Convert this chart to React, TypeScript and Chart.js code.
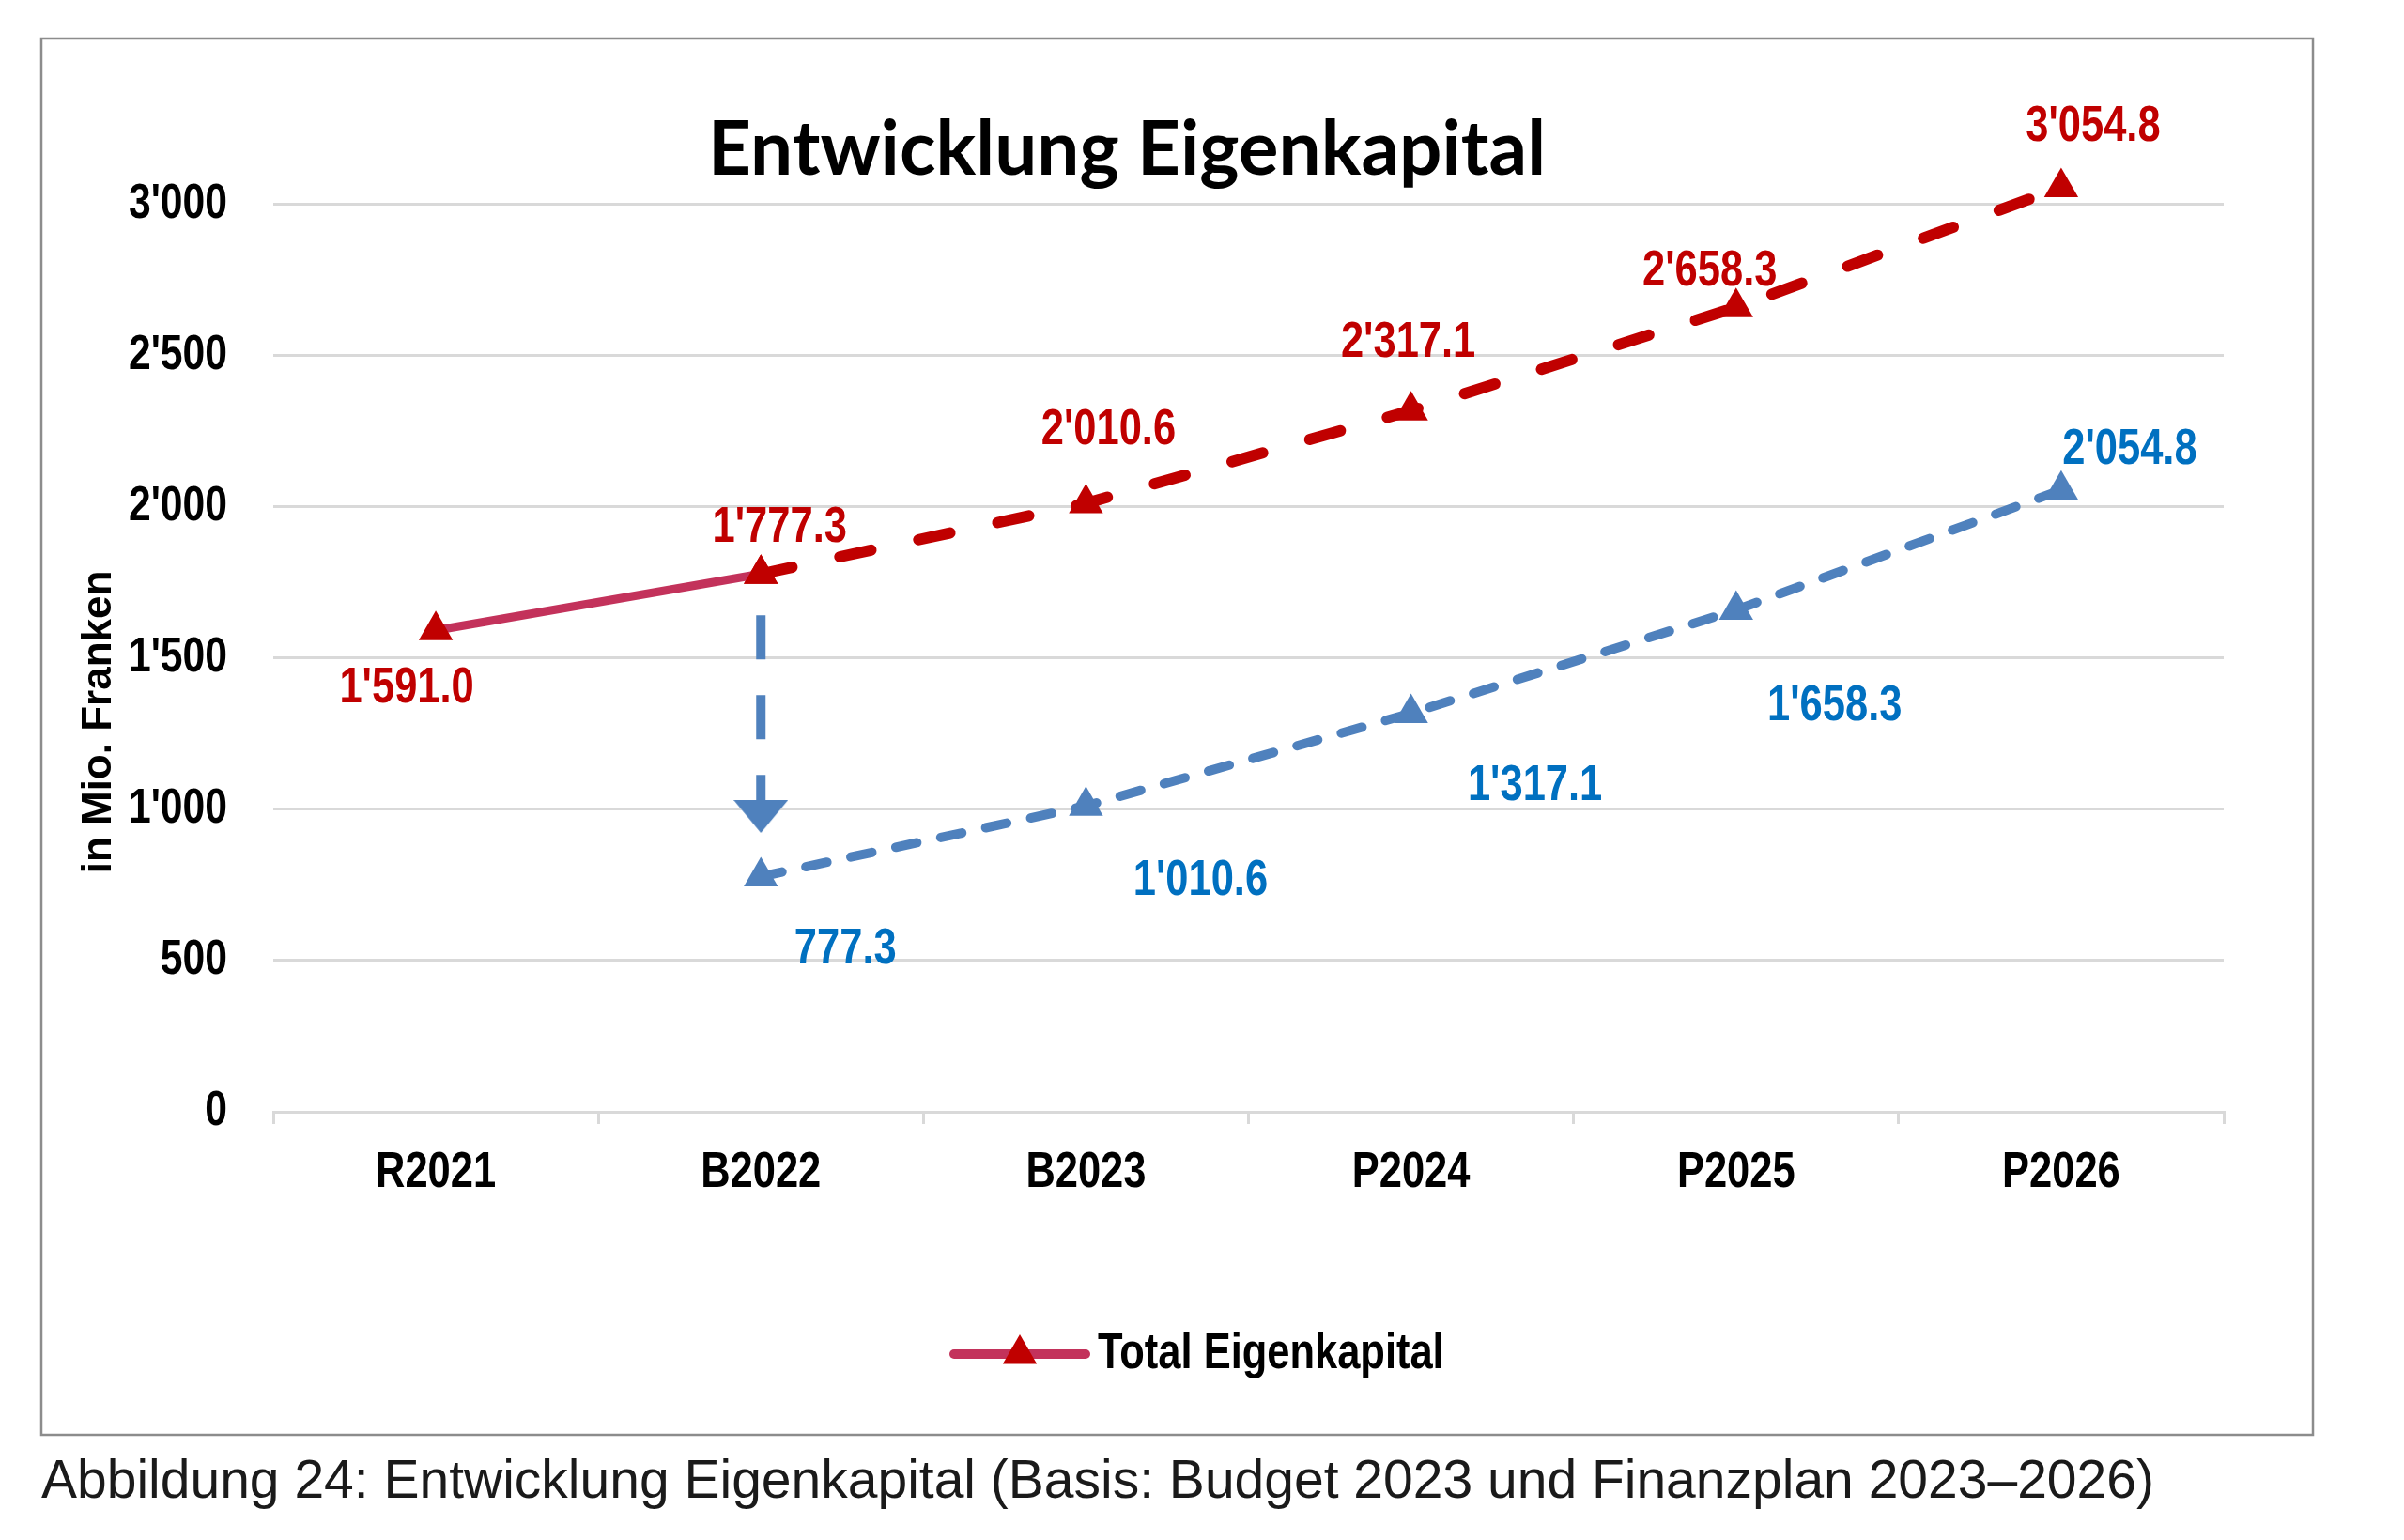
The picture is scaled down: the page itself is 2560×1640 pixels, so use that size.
import React, { useEffect, useRef } from 'react';
import { Chart, registerables } from 'chart.js';

Chart.register(...registerables);

// ---------- data ----------
const categories = ['R2021', 'B2022', 'B2023', 'P2024', 'P2025', 'P2026'];
const actualValues: (number | null)[] = [1591.0, 1777.3, null, null, null, null];
const totalPlanValues: (number | null)[] = [null, 1777.3, 2010.6, 2317.1, 2658.3, 3054.8];
const adjustedValues: (number | null)[] = [null, 777.3, 1010.6, 1317.1, 1658.3, 2054.8];
const arrowCategory = 'B2022';
const arrowStartValue = 1641;
const arrowEndValue = 976;
const yTickValues = [0, 500, 1000, 1500, 2000, 2500, 3000];
const titleText = 'Entwicklung Eigenkapital';
const yAxisTitle = 'in Mio. Franken';
const legendLabel = 'Total Eigenkapital';
const captionText = 'Abbildung 24: Entwicklung Eigenkapital (Basis: Budget 2023 und Finanzplan 2023\u20132026)';

// ---------- styles ----------
const RED = '#C00000';
const CRIMSON = '#C3325B';
const BLUE = '#4F81BD';
const BLUE_TEXT = '#0070C0';
const GRID = '#D9D9D9';
const SANS = "'Liberation Sans', Arial, sans-serif";
const NARROW_X = 0.82; // emulate Arial Narrow with horizontally compressed Arial

const fmtThousands = (v: number, digits: number) => {
  const s = v.toFixed(digits);
  const [int, dec] = s.split('.');
  const withSep = int.replace(/\B(?=(\d{3})+(?!\d))/g, "'");
  return dec !== undefined ? withSep + '.' + dec : withSep;
};

function fillNarrow(ctx: CanvasRenderingContext2D, text: string, x: number, y: number) {
  ctx.save();
  ctx.translate(x, y);
  ctx.scale(NARROW_X, 1);
  ctx.fillText(text, 0, 0);
  ctx.restore();
}

function makeArrowHead(): HTMLCanvasElement {
  const c = document.createElement('canvas');
  c.width = 58;
  c.height = 35;
  const g = c.getContext('2d')!;
  g.fillStyle = BLUE;
  g.beginPath();
  g.moveTo(0, 0);
  g.lineTo(58, 0);
  g.lineTo(29, 35);
  g.closePath();
  g.fill();
  return c;
}

// Tick labels are drawn by Chart.js; this only compresses their glyphs horizontally.
const narrowTicksPlugin = {
  id: 'narrowTicks',
  afterUpdate(chart: any) {
    Object.values(chart.scales).forEach((scale: any) => {
      if (scale._narrowWrapped) return;
      const orig = scale.drawLabels.bind(scale);
      scale.drawLabels = function (area: any) {
        const ctx = this.ctx;
        const origFill = ctx.fillText;
        ctx.fillText = function (text: string, x: number, y: number) {
          this.save();
          this.translate(x, y);
          this.scale(NARROW_X, 1);
          origFill.call(this, text, 0, 0);
          this.restore();
        };
        try {
          orig(area);
        } finally {
          ctx.fillText = origFill;
        }
      };
      scale._narrowWrapped = true;
    });
  },
};

const decorPlugin = {
  id: 'decor',
  beforeDraw(chart: any) {
    const ctx = chart.ctx;
    ctx.save();
    ctx.fillStyle = '#FFFFFF';
    ctx.fillRect(0, 0, chart.width, chart.height);
    ctx.strokeStyle = '#8C8C8C';
    ctx.lineWidth = 2.5;
    ctx.strokeRect(44, 41, 2419, 1487);
    ctx.restore();
  },
  afterDraw(chart: any) {
    const ctx = chart.ctx;
    ctx.save();
    // title
    ctx.fillStyle = '#000000';
    ctx.font = "bold 80px Lato, 'Open Sans', sans-serif";
    ctx.textAlign = 'center';
    ctx.textBaseline = 'alphabetic';
    ctx.fillText(titleText, 1200, 186);
    // y axis title
    ctx.save();
    ctx.translate(106, 769);
    ctx.rotate(-Math.PI / 2);
    ctx.font = `bold 44px ${SANS}`;
    ctx.textAlign = 'center';
    ctx.textBaseline = 'middle';
    ctx.fillText(yAxisTitle, 0, 0);
    ctx.restore();
    // legend
    const ly = 1442;
    ctx.strokeStyle = CRIMSON;
    ctx.lineWidth = 10;
    ctx.lineCap = 'round';
    ctx.beginPath();
    ctx.moveTo(1016, ly);
    ctx.lineTo(1156, ly);
    ctx.stroke();
    const r = 21;
    const cx = 1086;
    ctx.fillStyle = RED;
    ctx.beginPath();
    ctx.moveTo(cx, ly - r);
    ctx.lineTo(cx + r * Math.sin(Math.PI / 3), ly + r / 2);
    ctx.lineTo(cx - r * Math.sin(Math.PI / 3), ly + r / 2);
    ctx.closePath();
    ctx.fill();
    ctx.fillStyle = '#000000';
    ctx.font = `bold 53px ${SANS}`;
    ctx.textAlign = 'left';
    ctx.textBaseline = 'middle';
    fillNarrow(ctx, legendLabel, 1169, ly);
    // caption
    ctx.fillStyle = '#1A1A1A';
    ctx.font = `57px ${SANS}`;
    ctx.textAlign = 'left';
    ctx.textBaseline = 'alphabetic';
    ctx.fillText(captionText, 44, 1595);
    ctx.restore();
  },
};

const labelPlugin = {
  id: 'valueLabels',
  afterDatasetsDraw(chart: any) {
    const ctx = chart.ctx;
    chart.data.datasets.forEach((ds: any, i: number) => {
      const offs = ds.labelOffsets;
      if (!offs) return;
      const meta = chart.getDatasetMeta(i);
      meta.data.forEach((pt: any, j: number) => {
        const v = ds.data[j];
        const o = offs[j];
        if (v == null || !o) return;
        ctx.save();
        ctx.font = `bold 53px ${SANS}`;
        ctx.fillStyle = ds.labelColor;
        ctx.textAlign = 'center';
        ctx.textBaseline = 'middle';
        fillNarrow(ctx, fmtThousands(v, 1), pt.x + o[0], pt.y + o[1]);
        ctx.restore();
      });
    });
  },
};

export default function App() {
  const ref = useRef<HTMLCanvasElement>(null);

  useEffect(() => {
    document.body.style.margin = '0';
    const canvas = ref.current!;
    const arrowHead = makeArrowHead();
    const chart = new Chart(canvas, {
      type: 'line',
      data: {
        labels: categories,
        datasets: [
          {
            label: legendLabel,
            data: actualValues,
            borderColor: CRIMSON,
            borderWidth: 9,
            borderCapStyle: 'round',
            pointStyle: 'triangle',
            pointRadius: 21,
            pointHoverRadius: 21,
            pointBackgroundColor: RED,
            pointBorderColor: RED,
            pointBorderWidth: 0,
            clip: false,
            labelColor: RED,
            labelOffsets: [[-31, 62], null, null, null, null, null],
          } as any,
          {
            label: 'Plan',
            data: totalPlanValues,
            borderColor: RED,
            borderWidth: 12,
            borderDash: [34, 52],
            borderCapStyle: 'round',
            pointStyle: 'triangle',
            pointRadius: 21,
            pointHoverRadius: 21,
            pointBackgroundColor: RED,
            pointBorderColor: RED,
            pointBorderWidth: 0,
            clip: false,
            labelColor: RED,
            labelOffsets: [null, [20, -49], [24, -78], [-3, -72], [-28, -38], [34, -64]],
          } as any,
          {
            label: 'Bereinigt',
            data: adjustedValues,
            borderColor: BLUE,
            borderWidth: 10,
            borderDash: [23, 26],
            borderCapStyle: 'round',
            pointStyle: 'triangle',
            pointRadius: 21,
            pointHoverRadius: 21,
            pointBackgroundColor: BLUE,
            pointBorderColor: BLUE,
            pointBorderWidth: 0,
            clip: false,
            labelColor: BLUE_TEXT,
            labelOffsets: [null, [90, 78], [122, 80], [132, 78], [105, 103], [73, -42]],
          } as any,
          {
            label: 'Pfeil',
            data: [
              { x: arrowCategory, y: arrowStartValue },
              { x: arrowCategory, y: arrowEndValue },
            ],
            borderColor: BLUE,
            borderWidth: 10,
            borderDash: [47, 38],
            borderCapStyle: 'butt',
            pointStyle: ['circle', arrowHead],
            pointRadius: [0, 20],
            pointHoverRadius: [0, 20],
            pointBackgroundColor: BLUE,
            pointBorderWidth: 0,
            clip: false,
          } as any,
        ],
      },
      options: {
        responsive: false,
        animation: false,
        devicePixelRatio: 1,
        events: [],
        layout: { padding: { left: 0, right: 192, top: 185, bottom: 336 } },
        plugins: {
          legend: { display: false },
          title: { display: false },
          tooltip: { enabled: false },
        },
        scales: {
          x: {
            type: 'category',
            offset: true,
            grid: {
              display: true,
              offset: true,
              drawOnChartArea: false,
              drawTicks: true,
              tickLength: 13,
              color: GRID,
              lineWidth: 3,
            },
            border: { display: true, color: GRID, width: 3 },
            ticks: {
              color: '#000000',
              font: { family: SANS, size: 53, weight: 'bold' },
              padding: 21,
              maxRotation: 0,
              autoSkip: false,
            },
            afterFit: (scale: any) => {
              scale.height = 120;
            },
          },
          y: {
            min: 0,
            max: 3100,
            afterBuildTicks: (scale: any) => {
              scale.ticks = yTickValues.map((v) => ({ value: v }));
            },
            grid: { color: GRID, lineWidth: 3, drawTicks: false },
            border: { display: false },
            ticks: {
              color: '#000000',
              font: { family: SANS, size: 52, weight: 'bold' },
              padding: 49,
              callback: (v: any) => fmtThousands(Number(v), 0),
            },
            afterFit: (scale: any) => {
              scale.width = 291;
            },
          },
        },
      },
      plugins: [narrowTicksPlugin, decorPlugin, labelPlugin],
    });
    return () => chart.destroy();
  }, []);

  return (
    <div style={{ width: 2560, height: 1640, background: '#fff' }}>
      <canvas ref={ref} width={2560} height={1640} style={{ width: 2560, height: 1640, display: 'block' }} />
    </div>
  );
}
